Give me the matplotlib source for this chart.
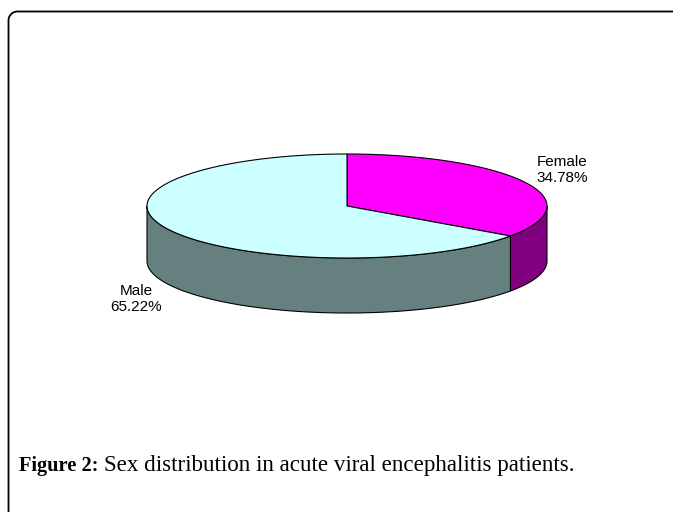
import numpy as np
import matplotlib
matplotlib.use("Agg")
import matplotlib.pyplot as plt
from matplotlib.patches import Polygon

categories = ["Female", "Male"]
percentages = [34.78, 65.22]
top_colors = ["#ff00ff", "#ccffff"]
side_colors = ["#800080", "#668080"]

W, H = 673, 512
cx, cy = 347, 206      # centre of the top face (pixels)
rx, ry = 200, 52       # ellipse radii
depth = 55             # pie thickness

fig = plt.figure(figsize=(W / 100, H / 100), dpi=100)
ax = fig.add_axes([0, 0, 1, 1])
ax.set_xlim(0, W)
ax.set_ylim(H, 0)
ax.axis("off")


def pt(theta, dy=0):
    return cx + rx * np.cos(theta), cy - ry * np.sin(theta) + dy


# slice angles, clockwise from 12 o'clock
starts = []
ends = []
a = np.pi / 2
for p in percentages:
    starts.append(a)
    a -= p / 100 * 2 * np.pi
    ends.append(a)

# side walls (only the front half, sin(theta) < 0, is visible)
for s, e, col in zip(starts, ends, side_colors):
    lo, hi = max(e, -np.pi), min(s, 0)
    if lo >= hi:
        continue
    th = np.linspace(hi, lo, 120)
    x, y = pt(th)
    xb, yb = pt(th[::-1], depth)
    verts = np.column_stack([np.concatenate([x, xb]), np.concatenate([y, yb])])
    ax.add_patch(Polygon(verts, closed=True, facecolor=col, edgecolor="black", lw=0.8))

# top faces
for s, e, col in zip(starts, ends, top_colors):
    th = np.linspace(s, e, 200)
    x, y = pt(th)
    verts = np.column_stack([np.concatenate([[cx], x]), np.concatenate([[cy], y])])
    ax.add_patch(Polygon(verts, closed=True, facecolor=col, edgecolor="black", lw=0.8))

# labels
label_pos = [(562, 170), (136, 299)]
for name, p, (lx, ly) in zip(categories, percentages, label_pos):
    ax.text(lx, ly, f"{name}\n{p:.2f}%", ha="center", va="center",
            fontsize=11, family="Liberation Sans", linespacing=1.12)

# frame: left + top with rounded corner
r = 9
arc = np.linspace(np.pi, np.pi / 2, 20)
fx = np.concatenate([[8.5], 8.5 + r + r * np.cos(arc), [W]])
fy = np.concatenate([[H], 11.5 + r - r * np.sin(arc), [11.5]])
ax.plot(fx, fy, color="black", lw=1.3, solid_capstyle="butt")

# caption
ax.text(19, 471, "Figure 2:", fontsize=14.7, family="Liberation Serif",
        fontweight="bold", va="baseline", ha="left")
ax.text(104, 471, "Sex distribution in acute viral encephalitis patients.",
        fontsize=16.6, family="Liberation Serif", va="baseline", ha="left")

fig.savefig("out.png", dpi=100)
